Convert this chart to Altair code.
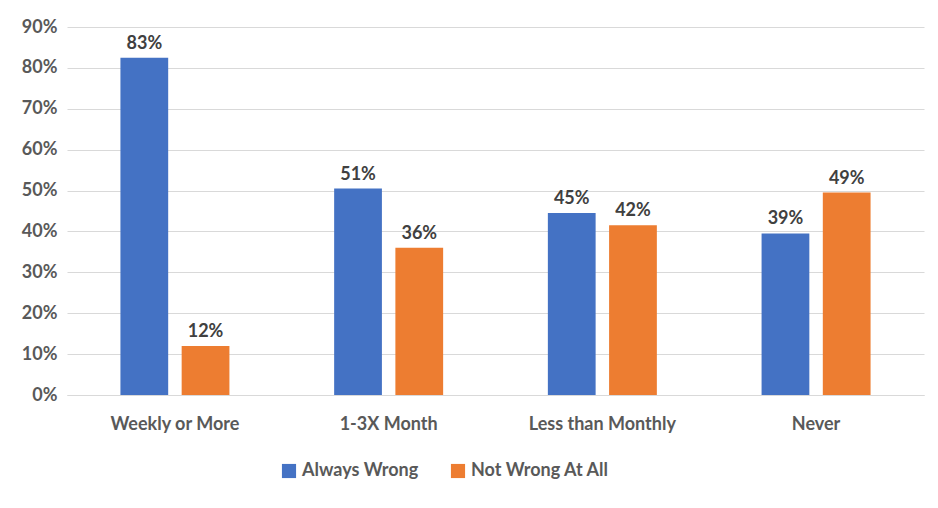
import altair as alt
import pandas as pd

categories = ["Weekly or More", "1-3X Month", "Less than Monthly", "Never"]
always_wrong = [0.825, 0.505, 0.445, 0.395]
not_wrong = [0.12, 0.36, 0.415, 0.495]
always_labels = ["83%", "51%", "45%", "39%"]
not_labels = ["12%", "36%", "42%", "49%"]
series = ["Always Wrong", "Not Wrong At All"]

rows = []
for i, c in enumerate(categories):
    rows.append({"cat": c, "series": series[0], "val": always_wrong[i], "lab": always_labels[i]})
    rows.append({"cat": c, "series": series[1], "val": not_wrong[i], "lab": not_labels[i]})
df = pd.DataFrame(rows)

font = "Lato"
grey = "#595959"

base = alt.Chart(df).encode(
    x=alt.X("cat:N", sort=categories, title=None,
            scale=alt.Scale(paddingInner=0.49, paddingOuter=0.25),
            axis=alt.Axis(labelAngle=0, labelFontSize=18, labelFontWeight="bold",
                          labelColor=grey, labelFont=font, ticks=False,
                          domainColor="#d9d9d9", labelPadding=20)),
    xOffset=alt.XOffset("series:N", sort=series, scale=alt.Scale(paddingInner=0.22)),
)

bars = base.mark_bar().encode(
    y=alt.Y("val:Q", title=None,
            scale=alt.Scale(domain=[0, 0.9]),
            axis=alt.Axis(format=".0%", values=[i / 10 for i in range(10)],
                          labelFontSize=18, labelFontWeight="bold", labelColor=grey,
                          labelFont=font, ticks=False, domain=False,
                          gridColor="#d9d9d9", labelPadding=10)),
    color=alt.Color("series:N", sort=series,
                    scale=alt.Scale(domain=series, range=["#4472c4", "#ed7d31"]),
                    legend=alt.Legend(orient="none", legendX=213, legendY=435,
                                      direction="horizontal", title=None, symbolType="square",
                                      symbolSize=200, labelFontSize=18, labelFont=font,
                                      labelFontWeight="bold", labelColor=grey,
                                      columnPadding=30)),
)

text = base.mark_text(dy=-14, fontSize=18, fontWeight="bold", color="#404040", font=font).encode(
    y="val:Q", text="lab:N"
)

chart = (bars + text).properties(
    width=857, height=368,
    padding={"left": 13, "top": 10, "right": 5, "bottom": 5},
).configure_view(stroke=None)

chart.save("out.html", embed_options={"renderer": "svg", "actions": False})
